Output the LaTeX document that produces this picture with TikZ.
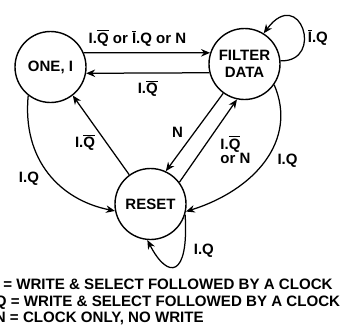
\documentclass[tikz,border=0pt]{standalone}
\usepackage{fontspec}
\setmainfont{Liberation Sans}
\usepackage{tikz}
\usetikzlibrary{positioning}
\usetikzlibrary{arrows.meta}
\newcommand{\nt}[1]{\leavevmode\vbox{\hrule height 1pt\kern 1.3pt\hbox{#1}}}
\tikzset{
    state diagram/.style={
            x=1pt,y=1pt,
            font=\fontsize{15}{17}\selectfont\bfseries,
            state/.style={circle,draw,line width=1.4pt,minimum size=71pt,inner sep=0pt,align=center},
            arrow/.style={-{Stealth[length=9pt,width=7.5pt]},line width=1.25pt},
            lbl/.style={inner sep=2pt},
            legend/.style={anchor=base west,inner sep=0pt,font=\fontsize{15.1}{17}\selectfont\bfseries}
        }
    }

\begin{document}
\begin{tikzpicture}[state diagram]
    \useasboundingbox (0,0) rectangle (347,-324);
    \node [state] (one) at (50.5,-67) {ONE, I};
    \node [state] (filter) at (244.5,-64) {FILTER\\DATA};
    \node [state] (reset) at (150.5,-204) {RESET};
    \draw [arrow] (one.23) -- (filter.162) node (lab1) [lbl, midway, above=4pt, xshift=-9.5pt] {I.\nt{Q} or \nt{I}.Q or N};
    \draw [arrow] (filter.194) -- (one.350) node (lab2) [lbl, midway, below=5pt] {I.\nt{Q}};
    \draw [arrow] (filter.5) .. controls (325,-62) and (300,15) .. (filter.58) node (lab3) [lbl, pos=0.4, right=1pt] {\nt{I}.Q};
    \draw [arrow] (reset.126) -- (one.308) node (lab4) [lbl, pos=0.4, left=9pt] {I.\nt{Q}};
    \draw [arrow] (filter.234) -- (reset.65) node (lab5) [lbl, midway, left=9pt] {N};
    \draw [arrow] (reset.37) -- (filter.258) node (lab6) [lbl, pos=0.39, right=16pt, align=left, font=\fontsize{15}{14}\selectfont\bfseries] {I.\nt{Q}\\or N};
    \draw [arrow] (one.232) .. controls (22,-160) and (60,-200) .. (reset.191) node (lab7) [lbl, pos=0.55, left=12pt] {I.Q};
    \draw [arrow] (filter.325) .. controls (298,-140) and (255,-190) .. (reset.348) node (lab8) [lbl, pos=0.5, right=10pt] {I.Q};
    \draw [arrow] (reset.343) .. controls (189,-278) and (168,-280) .. (reset.265) node (lab9) [lbl, pos=0.25, right=7.5pt] {I.Q};
    % legend, cut at the left edge
    \node (legI) [legend] at (-5.3,-289.4) {I = WRITE \& SELECT FOLLOWED BY A CLOCK};
    \node (legQ) [legend] at (-5.3,-306) {Q = WRITE \& SELECT FOLLOWED BY A CLOCK};
    \node (legN) [legend] at (-5.3,-322.6) {N = CLOCK ONLY, NO WRITE};
\end{tikzpicture}
\end{document}
